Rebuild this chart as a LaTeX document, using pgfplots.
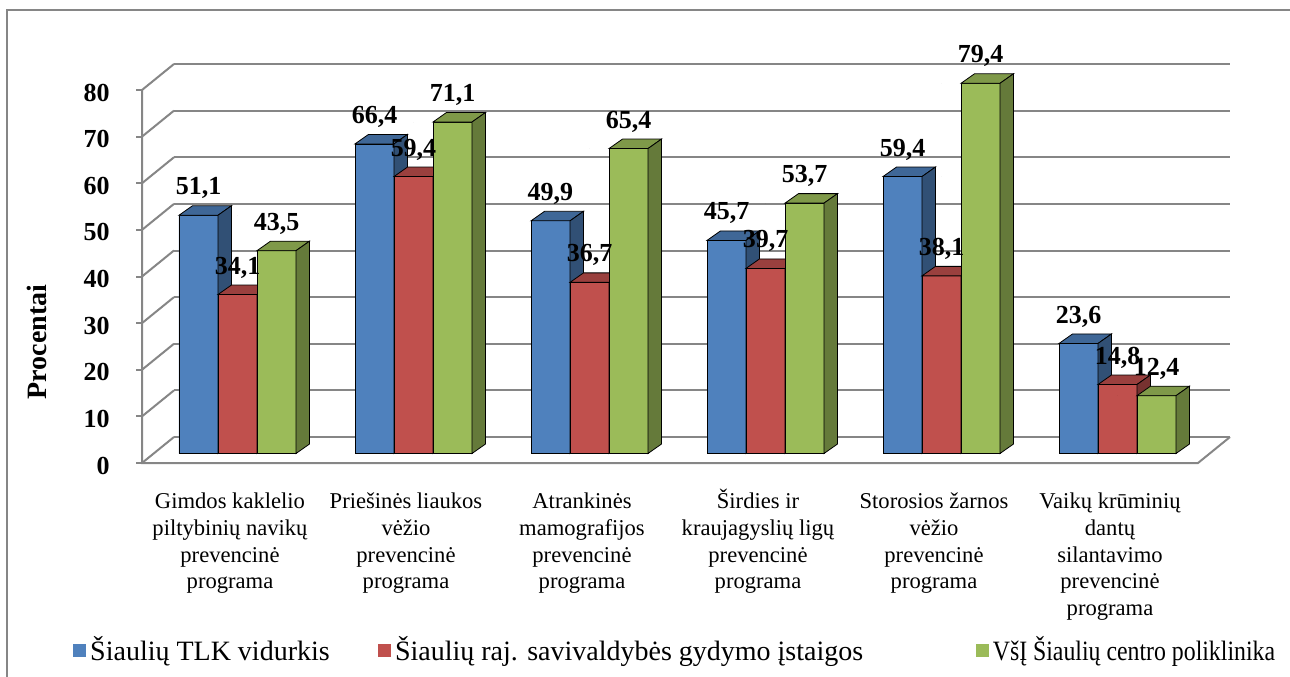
\documentclass[border=0pt]{standalone}
\usepackage{pgfplots}
\pgfplotsset{compat=1.18}
\usepackage{graphicx}
\usepackage{fontspec}
\setmainfont{Liberation Serif}
\definecolor{blueF}{HTML}{4F81BD}
\definecolor{redF}{HTML}{C0504D}
\definecolor{greenF}{HTML}{9BBB59}
\colorlet{blueT}{blueF!80!black}
\colorlet{blueS}{blueF!62!black}
\colorlet{redT}{redF!80!black}
\colorlet{redS}{redF!62!black}
\colorlet{greenT}{greenF!82!black}
\colorlet{greenS}{greenF!65!black}
\definecolor{gridc}{HTML}{868686}
% front, top and side faces of a 3D column, drawn at the data point
\newcommand\barfaces[4]{%
  \pgfmathsetmacro\myH{\val*2.33125}%
  \pgfmathsetmacro\myL{#1-9.75}%
  \pgfmathsetmacro\myR{#1+9.75}%
  \fill[fill=#4] (\myL pt,0pt) rectangle (\myR pt,-\myH pt);
  \fill[fill=#2] (\myL pt,0pt) -- (\myR pt,0pt) -- (\myR pt+6.75pt,4.75pt) -- (\myL pt+6.75pt,4.75pt) -- cycle;
  \fill[fill=#3] (\myR pt,0pt) -- (\myR pt+6.75pt,4.75pt) -- (\myR pt+6.75pt,4.75pt-\myH pt) -- (\myR pt,-\myH pt) -- cycle;
}
\newcommand\cl{\rule{0pt}{10pt}}
\pgfplotsset{
  faces/.style n args={4}{forget plot, scatter, only marks, mark=*, mark size=0pt,
    mark options={draw=none,fill=none},
    point meta=y, visualization depends on={rawy \as \val},
    scatter/@pre marker code/.code={\barfaces{#1}{#2}{#3}{#4}},
    scatter/@post marker code/.code={}},
  vlabels/.style={forget plot, only marks, mark=*, mark size=0pt,
    mark options={draw=none,fill=none}, point meta=y,
    nodes near coords, nodes near coords style={xshift=#1}},
}
\begin{document}
\begin{tikzpicture}
\useasboundingbox (0,0) rectangle (645pt,338pt);
\draw[gridc, line width=0.75pt] (3.5pt,-20pt) -- (3.5pt,333pt) -- (700pt,333pt);
\begin{axis}[
  at={(74.75pt,111.25pt)}, anchor=south west,
  scale only axis, width=528pt, height=186.5pt,
  xmin=-0.5, xmax=5.5, ymin=0, ymax=80,
  clip=false, clip marker paths=true,
  axis line style={draw=none},
  major tick length=0pt,
  xtick={0,1,2,3,4,5},
  xticklabels={
    {\cl Gimdos kaklelio\\piltybinių navikų\\prevencinė\\programa},
    {\cl Priešinės liaukos\\vėžio\\prevencinė\\programa},
    {\cl Atrankinės\\mamografijos\\prevencinė\\programa},
    {\cl Širdies ir\\kraujagyslių ligų\\prevencinė\\programa},
    {\cl Storosios žarnos\\vėžio\\prevencinė\\programa},
    {\cl Vaikų krūminių\\dantų\\silantavimo\\prevencinė\\programa}},
  xticklabel style={align=center, anchor=north, inner sep=0pt,
    font=\fontsize{11.3}{13.4}\selectfont, xshift=-3.75pt, yshift=-17.25pt},
  ytick={0,10,...,80},
  /pgf/number format/assume math mode=true,
  /pgf/number format/use comma,
  yticklabel style={anchor=east, inner sep=0pt,
    font=\bfseries\fontsize{13}{15}\selectfont, xshift=-19.75pt, yshift=-6pt},
  ylabel={Procentai},
  every axis y label/.style={at={(axis description cs:-0.107,0.299)}, rotate=90,
    anchor=center, font=\bfseries\fontsize{14}{16}\selectfont},
  legend style={at={(axis description cs:-0.0724,-0.5268)}, anchor=west,
    legend columns=3, draw=none, fill=none, inner sep=0pt,
    font=\fontsize{14}{16}\selectfont, cells={anchor=west, inner xsep=1pt, inner ysep=0pt}},
  nodes near coords style={font=\bfseries\fontsize{13}{15}\selectfont, anchor=center, yshift=13.5pt},
]
% walls and floor
\pgfplotsinvokeforeach{0,10,...,80}{
  \draw[gridc, line width=1pt] ([shift={(12.25pt,8.25pt)}]axis cs:-0.5,#1) -- ([shift={(12.25pt,8.25pt)}]axis cs:5.5,#1);
  \draw[gridc, line width=1pt] ([shift={(-3.75pt,-4.75pt)}]axis cs:-0.5,#1) -- ([shift={(12.25pt,8.25pt)}]axis cs:-0.5,#1);
  \draw[gridc, line width=1pt] ([shift={(-3.75pt,-4.75pt)}]axis cs:-0.5,#1) -- ++(-3pt,0pt);
}
\draw[gridc, line width=1pt] ([shift={(-3.75pt,-4.75pt)}]axis cs:-0.5,80) -- ([shift={(-3.75pt,-4.75pt)}]axis cs:-0.5,0)
  -- ([shift={(-3.75pt,-4.75pt)}]axis cs:5.5,0) -- ([shift={(12.25pt,8.25pt)}]axis cs:5.5,0);

% Šiaulių TLK vidurkis
\addplot[forget plot, ybar, bar width=19.5pt, bar shift=-19.5pt, fill=blueF, draw=none]
  coordinates {(0,51.1) (1,66.4) (2,49.9) (3,45.7) (4,59.4) (5,23.6)};
\addplot[faces={-19.5}{blueT}{blueS}{blueF}]
  coordinates {(0,51.1) (1,66.4) (2,49.9) (3,45.7) (4,59.4) (5,23.6)};

% Šiaulių raj. savivaldybės gydymo įstaigos
\addplot[forget plot, ybar, bar width=19.5pt, bar shift=0pt, fill=redF, draw=none]
  coordinates {(0,34.1) (1,59.4) (2,36.7) (3,39.7) (4,38.1) (5,14.8)};
\addplot[faces={0}{redT}{redS}{redF}]
  coordinates {(0,34.1) (1,59.4) (2,36.7) (3,39.7) (4,38.1) (5,14.8)};

% VšĮ Šiaulių centro poliklinika
\addplot[forget plot, ybar, bar width=19.5pt, bar shift=19.5pt, fill=greenF, draw=none]
  coordinates {(0,43.5) (1,71.1) (2,65.4) (3,53.7) (4,79.4) (5,12.4)};
\addplot[faces={19.5}{greenT}{greenS}{greenF}]
  coordinates {(0,43.5) (1,71.1) (2,65.4) (3,53.7) (4,79.4) (5,12.4)};

% value labels
\addplot[vlabels=-19.5pt]
  coordinates {(0,51.1) (1,66.4) (2,49.9) (3,45.7) (4,59.4) (5,23.6)};
\addplot[vlabels=0pt]
  coordinates {(0,34.1) (1,59.4) (2,36.7) (3,39.7) (4,38.1) (5,14.8)};
\addplot[vlabels=19.5pt]
  coordinates {(0,43.5) (1,71.1) (2,65.4) (3,53.7) (4,79.4) (5,12.4)};

\addlegendimage{legend image code/.code={\fill[blueF] (0pt,-3pt) rectangle (6pt,3pt);}}
\addlegendentry{\makebox[142pt][l]{Šiaulių TLK vidurkis}}
\addlegendimage{legend image code/.code={\fill[redF] (0pt,-3pt) rectangle (6pt,3pt);}}
\addlegendentry{\makebox[288.5pt][l]{Šiaulių raj. savivaldybės gydymo įstaigos}}
\addlegendimage{legend image code/.code={\fill[greenF] (0pt,-3pt) rectangle (6pt,3pt);}}
\addlegendentry{\scalebox{0.85}[1]{VšĮ Šiaulių centro poliklinika}}
\end{axis}
\end{tikzpicture}
\end{document}
